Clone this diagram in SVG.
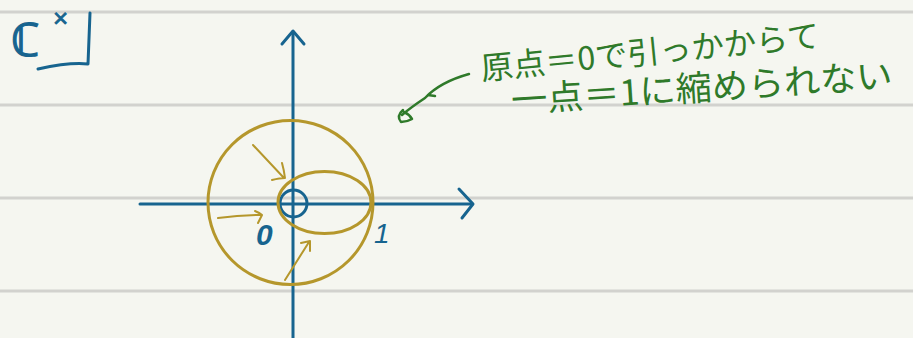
<svg xmlns="http://www.w3.org/2000/svg" width="913" height="338" viewBox="0 0 913 338">
<style>
.rule{stroke:#d2d2ce;stroke-width:3;fill:none}
.blue{stroke:#17648f;stroke-width:3;fill:none;stroke-linecap:round;stroke-linejoin:round}
.gold{stroke:#b5972c;stroke-width:3;fill:none;stroke-linecap:round;stroke-linejoin:round}
.goldthin{stroke:#b5972c;stroke-width:2;fill:none;stroke-linecap:round;stroke-linejoin:round}
.green{stroke:#2f7a2a;stroke-width:2.5;fill:none;stroke-linecap:round;stroke-linejoin:round}
.gtext{fill:#2f7a2a;font-family:"Noto Sans CJK JP","Noto Sans",sans-serif}
.btext{fill:#17648f;font-family:"Liberation Sans",sans-serif}
</style>
<rect width="913" height="338" fill="#f5f6f0"/>
<g id="paper">
<line class="rule" x1="0" y1="12" x2="913" y2="12"/>
<line class="rule" x1="0" y1="105" x2="913" y2="105"/>
<line class="rule" x1="0" y1="198" x2="913" y2="198"/>
<line class="rule" x1="0" y1="291" x2="913" y2="291"/>
</g>
<g id="title">
<text class="btext" x="11" y="56" font-size="46" font-family="DejaVu Sans,sans-serif" stroke="#17648f" stroke-width="1.2">ℂ</text>
<text class="btext" x="53" y="27" font-size="26" stroke="#17648f" stroke-width="0.8">×</text>
<path class="blue" d="M90 13 L88 64 Q70 62 38 69"/>
</g>
<g id="axes">
<line class="blue" x1="140" y1="204" x2="472" y2="204"/>
<polyline class="blue" points="459,189 473,204 462,218"/>
<line class="blue" x1="293" y1="32" x2="293" y2="338"/>
<polyline class="blue" points="282,44 293,31 304,44"/>
<circle class="blue" cx="293.5" cy="203.5" r="13.5"/>
<text class="btext" x="256" y="245" font-size="30" font-weight="bold" font-style="italic">0</text>
<text class="btext" x="374" y="243" font-size="28" font-style="italic">1</text>
</g>
<g id="loops">
<ellipse class="gold" cx="290.5" cy="202.5" rx="82.5" ry="82"/>
<ellipse class="gold" cx="324.5" cy="202.5" rx="46.5" ry="31"/>
</g>
<g id="connectors">
<path class="goldthin" d="M253 145 L284 178 M272 180 Q280 178 285 178 Q284 170 282 163"/>
<path class="goldthin" d="M218 218 Q240 215 262 215 M255 211 Q260 213 262 215 Q260 219 258 223"/>
<path class="goldthin" d="M285 280 L309 242 M301 243 L310 241 L310 251"/>
<path class="green" d="M469 74 Q440 82 425 98 Q410 108 402 115 M428 95 L435 96 M403 110 Q396 116 401 122 Q407 122 412 119 Q409 114 404 112"/>
</g>
<g id="note">
<text class="gtext" x="482" y="80" font-size="32" transform="rotate(-5.6 482 80)" textLength="340" lengthAdjust="spacingAndGlyphs">原点＝0で引っかからて</text>
<text class="gtext" x="512" y="113" font-size="35" transform="rotate(-3.8 512 113)" textLength="382" lengthAdjust="spacingAndGlyphs">一点＝1に縮められない</text>
</g>
</svg>
